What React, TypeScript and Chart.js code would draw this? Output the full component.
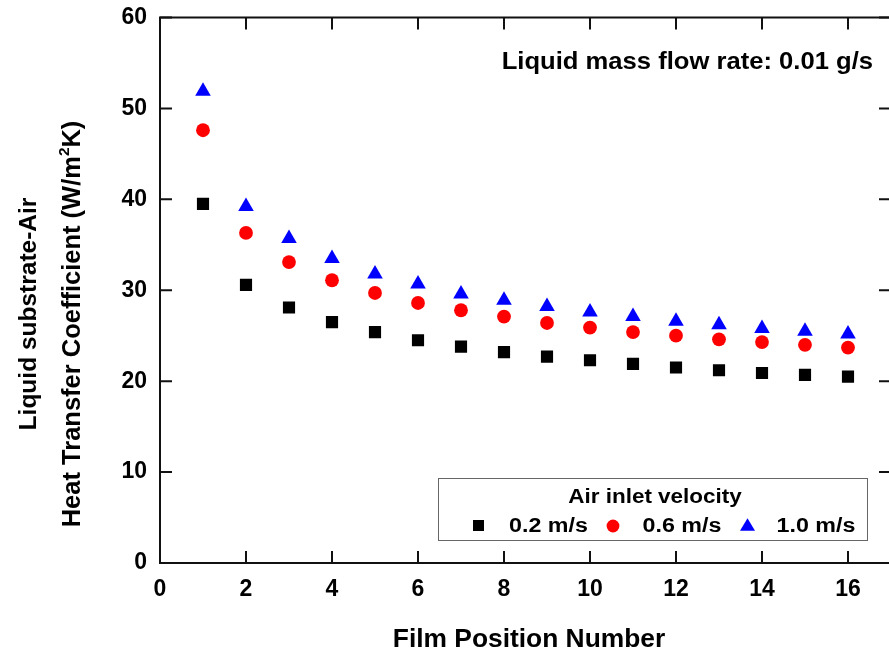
import React, { useEffect, useRef } from "react";
import { Chart, registerables } from "chart.js";

Chart.register(...registerables);

// ---- data ----
const positions = [1, 2, 3, 4, 5, 6, 7, 8, 9, 10, 11, 12, 13, 14, 15, 16];
const h02 = [39.5, 30.6, 28.1, 26.5, 25.4, 24.5, 23.8, 23.2, 22.7, 22.3, 21.9, 21.5, 21.2, 20.9, 20.7, 20.5];
const h06 = [47.6, 36.3, 33.1, 31.1, 29.7, 28.6, 27.8, 27.1, 26.4, 25.9, 25.4, 25.0, 24.6, 24.3, 24.0, 23.7];
const h10 = [51.9, 39.2, 35.7, 33.5, 31.8, 30.7, 29.6, 28.9, 28.2, 27.6, 27.1, 26.6, 26.2, 25.8, 25.5, 25.2];
const seriesLabels = ["0.2 m/s", "0.6 m/s", "1.0 m/s"];
const legendTitle = "Air inlet velocity";
const annotation = "Liquid mass flow rate: 0.01 g/s";
const xTitle = "Film Position Number";
const yTitle1 = "Liquid substrate-Air";
const yTitle2a = "Heat Transfer Coefficient (W/m";
const yTitle2sup = "2";
const yTitle2b = "K)";
const xTickStep = 2;
const yTickStep = 10;

const FONT = "'Liberation Sans', Arial, sans-serif";

function drawText(ctx: CanvasRenderingContext2D, text: string, x: number, y: number, size: number, sx: number, align: CanvasTextAlign) {
  ctx.save();
  ctx.translate(x, y);
  ctx.scale(sx, 1);
  ctx.font = `bold ${size}px ${FONT}`;
  ctx.textAlign = align;
  ctx.textBaseline = "alphabetic";
  ctx.fillStyle = "#000";
  ctx.fillText(text, 0, 0);
  ctx.restore();
}

const framePlugin = {
  id: "framePlugin",
  afterDraw(chart: any) {
    const ctx: CanvasRenderingContext2D = chart.ctx;
    const { left, right, top, bottom } = chart.chartArea;
    const xs = chart.scales.x;
    const ys = chart.scales.y;
    ctx.save();
    ctx.strokeStyle = "#111";
    ctx.lineWidth = 2;
    ctx.strokeRect(left, top, right - left, bottom - top);
    ctx.beginPath();
    const tl = 12;
    xs.ticks.forEach((t: any) => {
      const px = xs.getPixelForValue(t.value);
      ctx.moveTo(px, bottom);
      ctx.lineTo(px, bottom - tl);
      ctx.moveTo(px, top);
      ctx.lineTo(px, top + tl);
    });
    ys.ticks.forEach((t: any) => {
      const py = ys.getPixelForValue(t.value);
      ctx.moveTo(left, py);
      ctx.lineTo(left + tl, py);
      ctx.moveTo(right, py);
      ctx.lineTo(right - tl, py);
    });
    ctx.stroke();
    ctx.restore();

    // annotation
    drawText(ctx, annotation, 873, 69, 24.5, 1.045, "right");

    // x title
    drawText(ctx, xTitle, 529, 647, 25.6, 1.03, "center");

    // y title (rotated)
    ctx.save();
    ctx.fillStyle = "#000";
    ctx.font = `bold 24.5px ${FONT}`;
    ctx.textBaseline = "alphabetic";
    ctx.translate(36, 314);
    ctx.rotate(-Math.PI / 2);
    ctx.textAlign = "center";
    ctx.fillText(yTitle1, 0, 0);
    ctx.restore();

    const yf = 25.5;
    ctx.save();
    ctx.fillStyle = "#000";
    ctx.textBaseline = "alphabetic";
    ctx.translate(80, 324);
    ctx.rotate(-Math.PI / 2);
    ctx.font = `bold ${yf}px ${FONT}`;
    const wa = ctx.measureText(yTitle2a).width;
    const wb = ctx.measureText(yTitle2b).width;
    ctx.font = `bold ${yf * 0.6}px ${FONT}`;
    const ws = ctx.measureText(yTitle2sup).width;
    const total = wa + ws + wb;
    let cx = -total / 2;
    ctx.textAlign = "left";
    ctx.font = `bold ${yf}px ${FONT}`;
    ctx.fillText(yTitle2a, cx, 0);
    cx += wa;
    ctx.font = `bold ${yf * 0.6}px ${FONT}`;
    ctx.fillText(yTitle2sup, cx, -yf * 0.45);
    cx += ws;
    ctx.font = `bold ${yf}px ${FONT}`;
    ctx.fillText(yTitle2b, cx, 0);
    ctx.restore();

    // legend box
    ctx.save();
    ctx.strokeStyle = "#666";
    ctx.lineWidth = 1;
    ctx.strokeRect(438.5, 478.5, 429, 62);
    ctx.restore();
    drawText(ctx, legendTitle, 655, 503.3, 21, 1.07, "center");

    const rowY = 525.5;
    ctx.save();
    ctx.fillStyle = "#000";
    ctx.fillRect(478.5 - 5.5, rowY - 5.5, 11, 11);
    ctx.fillStyle = "#ff0000";
    ctx.beginPath();
    ctx.arc(613, rowY + 0.5, 6.4, 0, Math.PI * 2);
    ctx.fill();
    ctx.fillStyle = "#0000ff";
    ctx.beginPath();
    ctx.moveTo(747.5, 518.3);
    ctx.lineTo(755, 530.7);
    ctx.lineTo(740, 530.7);
    ctx.closePath();
    ctx.fill();
    ctx.restore();
    drawText(ctx, seriesLabels[0], 509, 532.3, 19.4, 1.2, "left");
    drawText(ctx, seriesLabels[1], 642.5, 532.3, 19.4, 1.2, "left");
    drawText(ctx, seriesLabels[2], 776.5, 532.3, 19.4, 1.2, "left");
  },
};

export default function App() {
  const ref = useRef<HTMLCanvasElement | null>(null);
  useEffect(() => {
    if (!ref.current) return;
    const mk = (vals: number[]) => positions.map((x, i) => ({ x, y: vals[i] }));
    const chart = new Chart(ref.current, {
      type: "scatter",
      data: {
        datasets: [
          { label: seriesLabels[0], data: mk(h02), pointStyle: "rect", pointRadius: 8.6, backgroundColor: "#000000", borderWidth: 0 },
          { label: seriesLabels[1], data: mk(h06), pointStyle: "circle", pointRadius: 6.9, backgroundColor: "#ff0000", borderWidth: 0 },
          { label: seriesLabels[2], data: mk(h10), pointStyle: "triangle", pointRadius: 9, backgroundColor: "#0000ff", borderWidth: 0 },
        ],
      },
      options: {
        animation: false,
        responsive: false,
        devicePixelRatio: 1,
        layout: { padding: { left: 0, right: 2, top: 17.5, bottom: 0 } },
        plugins: { legend: { display: false }, tooltip: { enabled: false } },
        events: [],
        scales: {
          x: {
            type: "linear",
            min: 0,
            max: 17,
            afterBuildTicks: (s: any) => {
              s.ticks = s.ticks.filter((t: any) => Math.abs(t.value / xTickStep - Math.round(t.value / xTickStep)) < 1e-9);
            },
            afterFit: (s: any) => {
              s.height = 90;
              s.paddingLeft = 0;
              s.paddingRight = 0;
            },
            ticks: {
              stepSize: xTickStep,
              autoSkip: false,
              maxRotation: 0,
              padding: 13,
              color: "#000",
              font: { family: FONT, size: 23, weight: "bold" },
            },
            grid: { display: false, drawTicks: false },
            border: { display: false },
          },
          y: {
            type: "linear",
            min: 0,
            max: 60,
            afterFit: (s: any) => {
              s.width = 160;
              s.paddingTop = 0;
              s.paddingBottom = 0;
            },
            ticks: {
              stepSize: yTickStep,
              autoSkip: false,
              padding: 13,
              color: "#000",
              font: { family: FONT, size: 23, weight: "bold" },
            },
            grid: { display: false, drawTicks: false },
            border: { display: false },
          },
        },
      },
      plugins: [framePlugin],
    } as any);
    return () => chart.destroy();
  }, []);
  return (
    <div style={{ position: "fixed", left: 0, top: 0, width: 889, height: 653, overflow: "hidden", background: "#fff" }}>
      <canvas ref={ref} width={900} height={653} style={{ width: 900, height: 653, display: "block" }} />
    </div>
  );
}
